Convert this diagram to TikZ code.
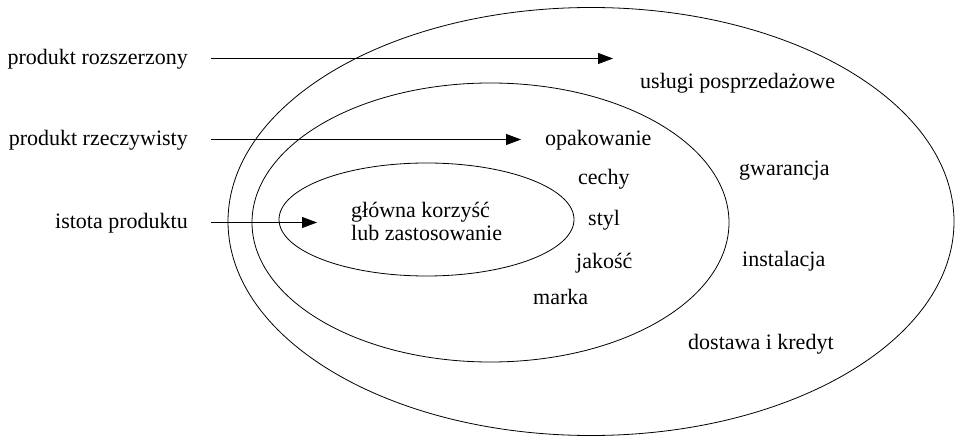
\documentclass[tikz,border=0pt]{standalone}
\usepackage{fontspec}
\setmainfont{Liberation Serif}
\usetikzlibrary{arrows.meta}
\begin{document}
\begin{tikzpicture}[x=1pt,y=-1pt,
  ring/.style={draw=black,line width=0.8pt},
  lbl/.style={inner sep=0pt,font=\fontsize{22}{26}\selectfont},
  arr/.style={line width=0.8pt,-{Triangle[length=15pt,width=11pt]},shorten <=23pt}]
  \useasboundingbox (0,0) rectangle (958,438);

  % three nested levels of the product
  \draw[ring] (591,221.5) ellipse [x radius=363, y radius=214];
  \draw[ring] (490.5,222.5) ellipse [x radius=238.5, y radius=139.5];
  \draw[ring] (426.5,219.5) ellipse [x radius=147.5, y radius=56.5];

  % level names on the left, each pointing into its ring
  \node[lbl,anchor=base east] (l1) at (188,64.5) {produkt rozszerzony};
  \node[lbl,anchor=base east] (l2) at (188,145.5) {produkt rzeczywisty};
  \node[lbl,anchor=base east] (l3) at (188,228.5) {istota produktu};
  \coordinate (t1) at (613,58.5);
  \coordinate (t2) at (521,139.5);
  \coordinate (t3) at (317,222.5);
  \draw[arr] (l1.east |- t1) -- (t1);
  \draw[arr] (l2.east |- t2) -- (t2);
  \draw[arr] (l3.east |- t3) -- (t3);

  % core
  \node[lbl,anchor=base west] (core1) at (351,218) {główna korzyść};
  \node[lbl,anchor=base west] (core2) at (351,241) {lub zastosowanie};

  % actual product
  \node[lbl,anchor=base west] (a1) at (545,146) {opakowanie};
  \node[lbl,anchor=base west] (a2) at (578,185) {cechy};
  \node[lbl,anchor=base west] (a3) at (588,226) {styl};
  \node[lbl,anchor=base west] (a4) at (576,269) {jakość};
  \node[lbl,anchor=base west] (a5) at (533,305) {marka};

  % augmented product
  \node[lbl,anchor=base west] (e1) at (640,89) {usługi posprzedażowe};
  \node[lbl,anchor=base west] (e2) at (739,176) {gwarancja};
  \node[lbl,anchor=base west] (e3) at (742,266) {instalacja};
  \node[lbl,anchor=base west] (e4) at (688,349) {dostawa i kredyt};
\end{tikzpicture}
\end{document}
